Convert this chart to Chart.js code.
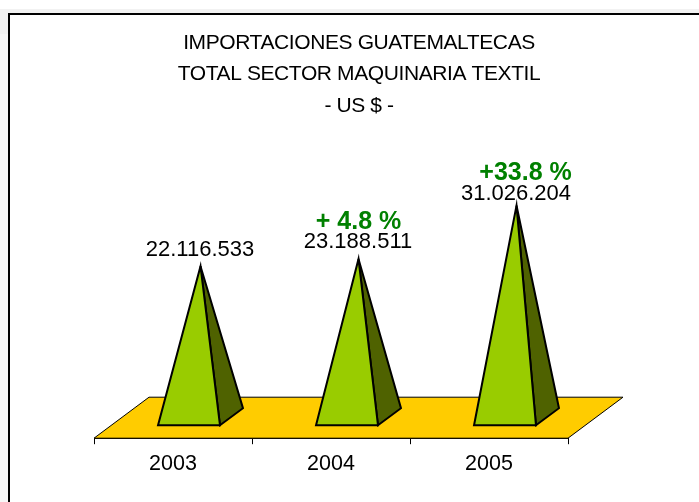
<!DOCTYPE html>
<html>
<head>
<meta charset="utf-8">
<script src="https://cdn.jsdelivr.net/npm/chart.js@4"></script>
<style>
    html, body { margin: 0; padding: 0; background: #fff; overflow: hidden; }
    #band { position: absolute; left: 0; top: 9px; width: 699px; height: 25px; background: #f2f2f2; }
    #strip { position: absolute; left: 0; top: 9px; width: 8px; height: 493px; background: #f7f7f7; }
    #frame { position: absolute; left: 8px; top: 13px; width: 700px; height: 500px; border: 2px solid #000; background: #fff; }
    #wrap { position: absolute; left: 0; top: 0; width: 699px; height: 502px; }
</style>
</head>
<body>
<div id="strip"></div>
<div id="band"></div>
<div id="frame"></div>
<div id="wrap"><canvas id="myChart" width="699" height="502"></canvas></div>
<script>
const years = ['2003', '2004', '2005'];
const imports = [22116533, 23188511, 31026204];
const valueLabels = ['22.116.533', '23.188.511', '31.026.204'];
const growthLabels = ['', '+ 4.8 %', '+33.8 %'];
const titleLines = ['IMPORTACIONES GUATEMALTECAS', 'TOTAL SECTOR MAQUINARIA TEXTIL', '- US $ -'];

// how far the back of the floor and of each pyramid sits from the front edge
const floorDepth = { x: 55, y: 41 };
const baseDepth = { x: 23, y: 17 };
const baseShiftX = 16;
const baseShiftY = 13;

const pyramids = {
    id: 'pyramids',
    beforeDatasetsDraw(chart) {
        const ctx = chart.ctx;
        const area = chart.chartArea;
        ctx.save();
        ctx.beginPath();
        ctx.moveTo(area.left, area.bottom);
        ctx.lineTo(area.right, area.bottom);
        ctx.lineTo(area.right + floorDepth.x, area.bottom - floorDepth.y);
        ctx.lineTo(area.left + floorDepth.x, area.bottom - floorDepth.y);
        ctx.closePath();
        ctx.fillStyle = '#ffcc00';
        ctx.fill();
        ctx.lineWidth = 1;
        ctx.strokeStyle = '#000';
        ctx.stroke();
        ctx.restore();
    },
    afterDatasetsDraw(chart) {
        const ctx = chart.ctx;
        const bars = chart.getDatasetMeta(0).data;
        ctx.save();
        ctx.lineWidth = 2;
        ctx.lineJoin = 'miter';
        ctx.strokeStyle = '#000';
        ctx.textAlign = 'center';
        ctx.textBaseline = 'middle';

        // title is centred on the frame, not on the plot, so it goes here
        ctx.letterSpacing = '-0.4px';
        ctx.font = '21px "Liberation Sans"';
        ctx.fillStyle = '#000';
        titleLines.forEach((line, i) => {
            ctx.fillText(line, 359, 43 + i * 31.5);
        });
        ctx.letterSpacing = '0px';

        bars.forEach((bar, i) => {
            const left = bar.x - bar.width / 2 + baseShiftX;
            const right = bar.x + bar.width / 2 + baseShiftX;
            const front = bar.base - baseShiftY;
            const apexX = (left + right + baseDepth.x) / 2;
            const apexY = bar.y - (baseShiftY + baseDepth.y / 2);

            ctx.beginPath();
            ctx.moveTo(right, front);
            ctx.lineTo(right + baseDepth.x, front - baseDepth.y);
            ctx.lineTo(apexX, apexY);
            ctx.closePath();
            ctx.fillStyle = '#4f6200';
            ctx.fill();
            ctx.stroke();

            ctx.beginPath();
            ctx.moveTo(left, front);
            ctx.lineTo(right, front);
            ctx.lineTo(apexX, apexY);
            ctx.closePath();
            ctx.fillStyle = '#99cc00';
            ctx.fill();
            ctx.stroke();

            const valueY = apexY - (i == 2 ? 12 : 16.5);
            ctx.font = '22px "Liberation Sans"';
            ctx.fillStyle = '#000';
            ctx.fillText(valueLabels[i], apexX - 0.5, valueY);

            if (growthLabels[i] != '') {
                ctx.font = 'bold 25px "Liberation Sans"';
                ctx.fillStyle = '#008000';
                ctx.fillText(growthLabels[i], apexX + (i == 2 ? 9 : 0), valueY - 20.5);
            }
        });
        ctx.restore();
    }
};

new Chart(document.getElementById('myChart'), {
    type: 'bar',
    data: {
        labels: years,
        datasets: [{
            data: imports,
            backgroundColor: 'transparent',
            borderWidth: 0,
            barPercentage: 0.392,
            categoryPercentage: 1
        }]
    },
    options: {
        responsive: false,
        animation: false,
        devicePixelRatio: 1,
        layout: { padding: { left: 94, right: 131, top: 166, bottom: 18 } },
        plugins: {
            legend: { display: false },
            tooltip: { enabled: false },
            title: { display: false }
        },
        scales: {
            x: {
                grid: { drawOnChartArea: false, color: '#000', tickLength: 6, tickWidth: 1 },
                border: { color: '#000' },
                ticks: { color: '#000', font: { family: '"Liberation Sans"', size: 21.5 }, padding: 7, maxRotation: 0 }
            },
            y: {
                display: false,
                min: 0,
                max: 40000000
            }
        }
    },
    plugins: [pyramids]
});
</script>
</body>
</html>
